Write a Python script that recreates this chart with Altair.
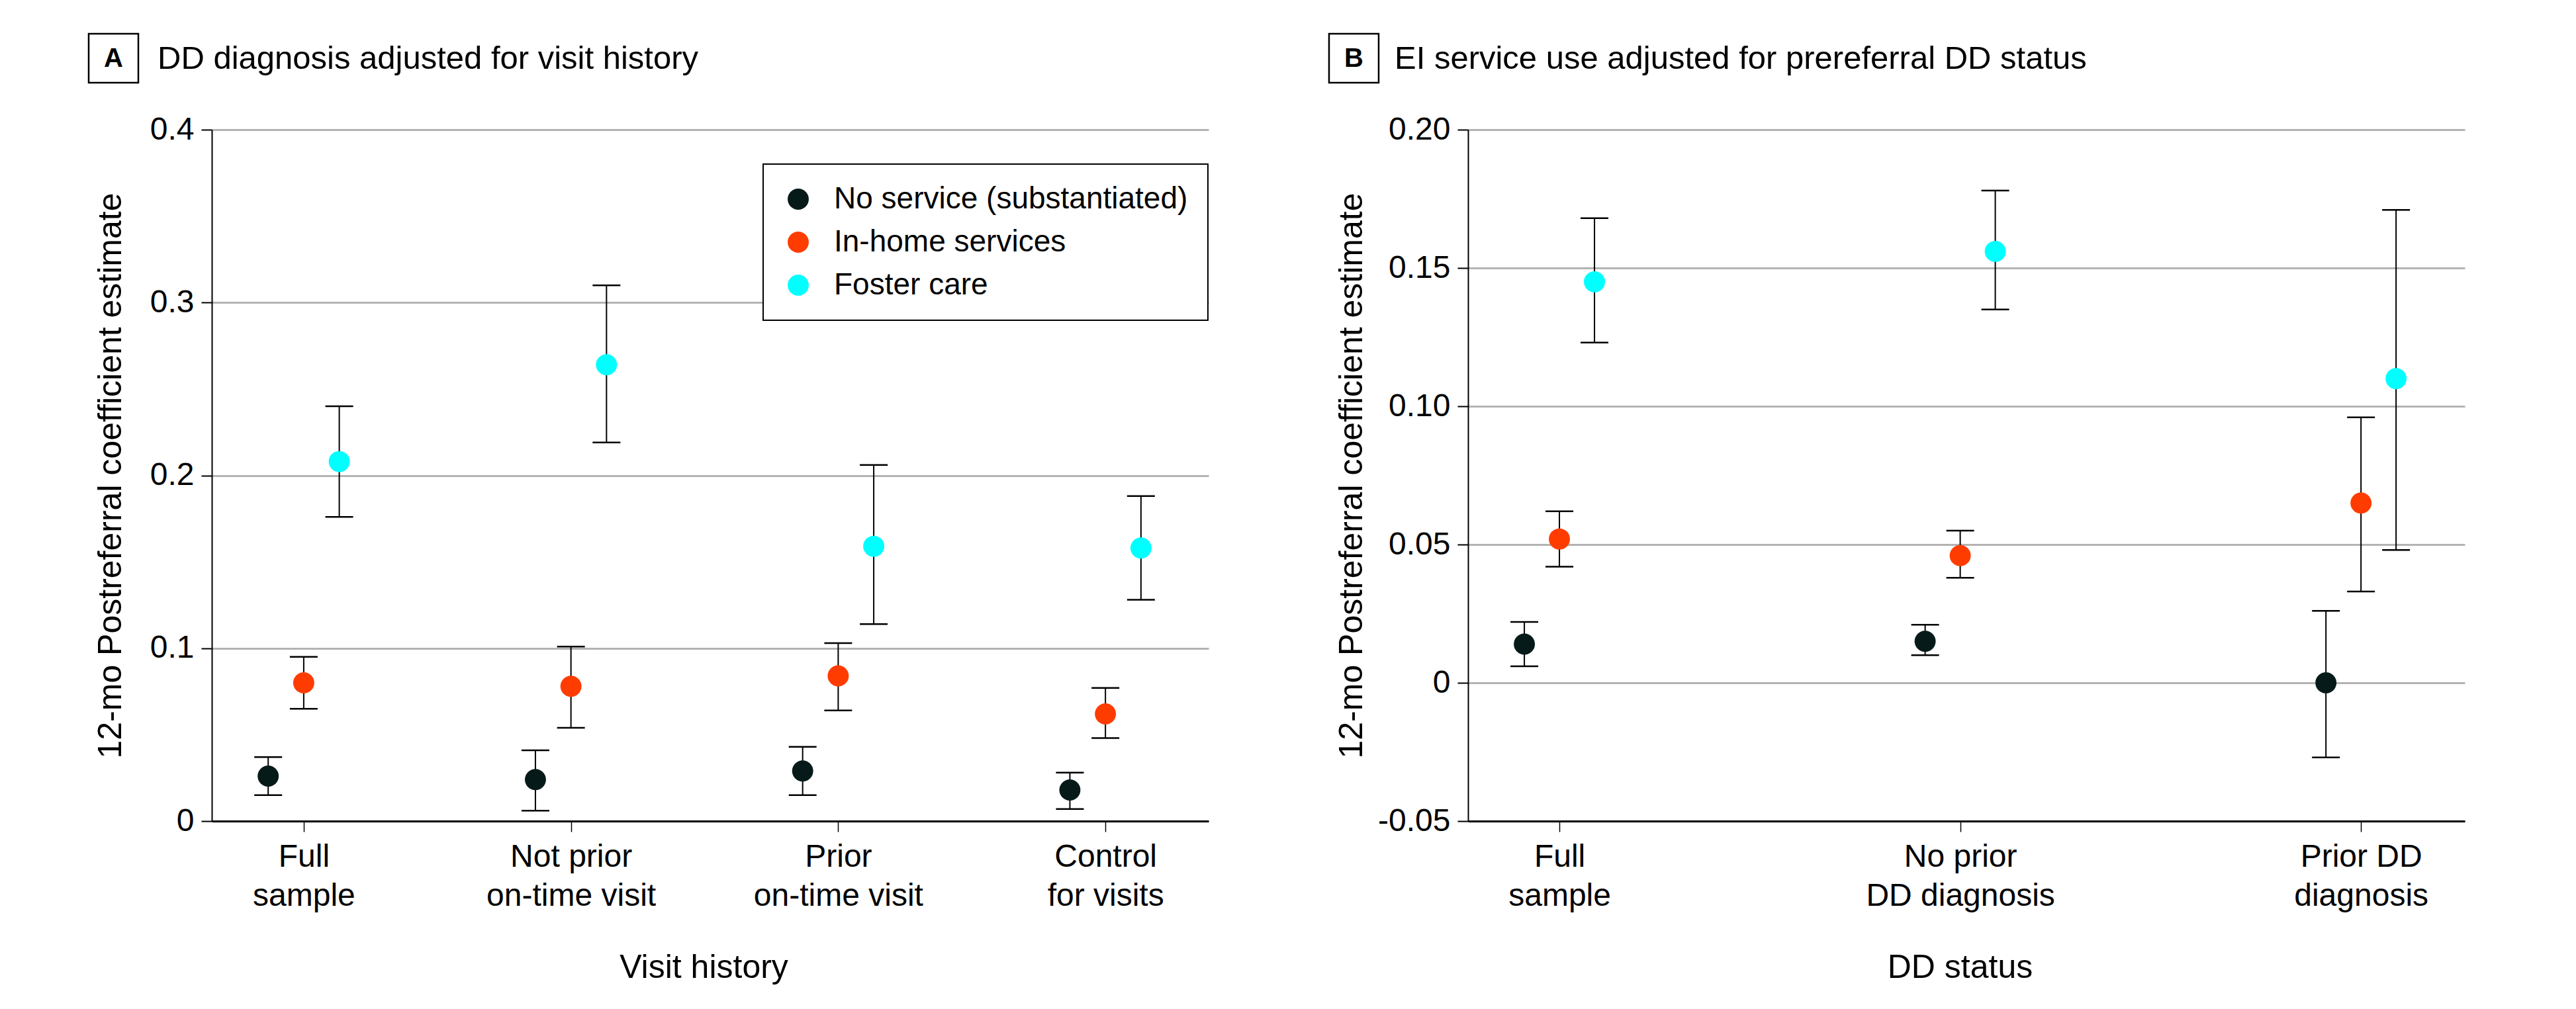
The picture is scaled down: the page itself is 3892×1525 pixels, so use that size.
import altair as alt
import pandas as pd

# Service groups and their colours
groups = ["No service (substantiated)", "In-home services", "Foster care"]
group_colors = ["#071a1a", "#ff3c00", "#00ffff"]

# Panel A: DD diagnosis adjusted for visit history
visit_labels = [["Full", "sample"], ["Not prior", "on-time visit"],
                ["Prior", "on-time visit"], ["Control", "for visits"]]
a_no_service = [0.026, 0.024, 0.029, 0.018]
a_no_service_lo = [0.015, 0.006, 0.015, 0.007]
a_no_service_hi = [0.037, 0.041, 0.043, 0.028]
a_in_home = [0.080, 0.078, 0.084, 0.062]
a_in_home_lo = [0.065, 0.054, 0.064, 0.048]
a_in_home_hi = [0.095, 0.101, 0.103, 0.077]
a_foster = [0.208, 0.264, 0.159, 0.158]
a_foster_lo = [0.176, 0.219, 0.114, 0.128]
a_foster_hi = [0.240, 0.310, 0.206, 0.188]
a_ticks = [0, 0.1, 0.2, 0.3, 0.4]

# Panel B: EI service use adjusted for prereferral DD status
dd_labels = [["Full", "sample"], ["No prior", "DD diagnosis"], ["Prior DD", "diagnosis"]]
b_no_service = [0.014, 0.015, 0.000]
b_no_service_lo = [0.006, 0.010, -0.027]
b_no_service_hi = [0.022, 0.021, 0.026]
b_in_home = [0.052, 0.046, 0.065]
b_in_home_lo = [0.042, 0.038, 0.033]
b_in_home_hi = [0.062, 0.055, 0.096]
b_foster = [0.145, 0.156, 0.110]
b_foster_lo = [0.123, 0.135, 0.048]
b_foster_hi = [0.168, 0.178, 0.171]
b_ticks = [-0.05, 0, 0.05, 0.10, 0.15, 0.20]

Y_TITLE = "12-mo Postreferral coefficient estimate"
W, H = 1506, 1045


def long_table(ests, los, his):
    rows = []
    for g, (e, lo, hi) in enumerate(zip(ests, los, his)):
        for i in range(len(e)):
            rows.append({"group": groups[g], "g": g, "cat": i + 1,
                         "est": e[i], "lo": lo[i], "hi": hi[i]})
    return pd.DataFrame(rows)


def js_labels(labels):
    inner = ",".join("[" + ",".join("'" + s + "'" for s in lines) + "]" for lines in labels)
    return "[" + inner + "][datum.value - 1]"


def panel(df, letter, title, cat_labels, x_domain, dodge, y_domain, y_ticks,
          y_label_expr, x_title, y_title_x, box_x, text_x, show_legend):
    n = len(cat_labels)
    base = alt.Chart(df).transform_calculate(
        pos=f"datum.cat + (datum.g - 1) * {dodge}"
    )
    x = alt.X(
        "pos:Q",
        scale=alt.Scale(domain=x_domain, nice=False, zero=False),
        axis=alt.Axis(values=list(range(1, n + 1)), labelExpr=js_labels(cat_labels),
                      title=x_title, grid=False, titleX=743, titleY=236,
                      titleBaseline="alphabetic", titleAlign="center"),
    )
    y_axis = alt.Axis(values=y_ticks, labelExpr=y_label_expr, title=Y_TITLE,
                      grid=True, titleX=y_title_x, titleY=H / 2,
                      titleBaseline="alphabetic", titleAlign="center", titleAngle=270)
    y_scale = alt.Scale(domain=y_domain, nice=False, zero=False)

    def y_enc(field):
        return alt.Y(f"{field}:Q", scale=y_scale, axis=y_axis)

    bars = base.mark_rule(color="black", strokeWidth=2).encode(
        x=x, y=y_enc("lo"), y2="hi:Q")
    cap_lo = base.mark_tick(orient="horizontal", size=42, thickness=2.5,
                            color="black", opacity=1).encode(x=x, y=y_enc("lo"))
    cap_hi = base.mark_tick(orient="horizontal", size=42, thickness=2.5,
                            color="black", opacity=1).encode(x=x, y=y_enc("hi"))
    legend = alt.Legend(title=None, orient="none", legendX=833, legendY=52,
                        symbolType="circle", symbolSize=1018, symbolStrokeWidth=0,
                        labelFontSize=46, labelLimit=1000, padding=30,
                        rowPadding=19, labelOffset=31, fillColor="white",
                        strokeColor="black") if show_legend else None
    points = base.mark_circle(size=1018, opacity=1).encode(
        x=x, y=y_enc("est"),
        color=alt.Color("group:N", scale=alt.Scale(domain=groups, range=group_colors),
                        legend=legend),
    )

    deco = alt.Chart(pd.DataFrame({"k": [0]}))
    box = deco.mark_rect(fill="white", stroke="black", strokeWidth=2.5).encode(
        x=alt.value(box_x), x2=alt.value(box_x + 75),
        y=alt.value(-145), y2=alt.value(-71))
    letter_txt = deco.mark_text(text=letter, fontSize=40, fontWeight="bold",
                                align="center", baseline="middle").encode(
        x=alt.value(box_x + 37.5), y=alt.value(-107))
    title_txt = deco.mark_text(text=title, fontSize=49, align="left",
                               baseline="middle").encode(
        x=alt.value(text_x), y=alt.value(-107))

    return alt.layer(bars, cap_lo, cap_hi, points, box, letter_txt, title_txt).properties(
        width=W, height=H)


df_a = long_table([a_no_service, a_in_home, a_foster],
                  [a_no_service_lo, a_in_home_lo, a_foster_lo],
                  [a_no_service_hi, a_in_home_hi, a_foster_hi])
df_b = long_table([b_no_service, b_in_home, b_foster],
                  [b_no_service_lo, b_in_home_lo, b_foster_lo],
                  [b_no_service_hi, b_in_home_hi, b_foster_hi])

panel_a = panel(df_a, "A", "DD diagnosis adjusted for visit history", visit_labels,
                [0.656, 4.386], 0.133, [0, 0.4], a_ticks,
                "datum.value == 0 ? '0' : format(datum.value, '.1f')",
                "Visit history", -138, -186, -82, True)
panel_b = panel(df_b, "B", "EI service use adjusted for prereferral DD status", dd_labels,
                [0.772, 3.259], 0.0875, [-0.05, 0.20], b_ticks,
                "datum.value == 0 ? '0' : replace(format(datum.value, '.2f'), '\u2212', '-')",
                "DD status", -161, -210, -111, False)

chart = alt.hconcat(panel_a, panel_b, spacing=392, bounds="flush").resolve_legend(
    color="independent"
).configure(
    font="Liberation Sans",
    background="white",
    padding={"left": 132, "top": 49, "right": 20, "bottom": 30},
).configure_view(stroke=None).configure_axis(
    labelFontSize=48, labelColor="black", labelFont="Liberation Sans",
    labelLimit=2000,
    titleFontSize=50, titleFontWeight="normal", titleColor="black",
    titleFont="Liberation Sans",
    domainColor="black", tickColor="black", tickSize=16,
    gridColor="#b3b3b3", gridWidth=3,
).configure_axisX(
    domainWidth=3, tickWidth=1.5, labelPadding=14, labelLineHeight=59,
    labelBaseline="top", labelAlign="center",
).configure_axisY(
    domainWidth=2, tickWidth=2, labelPadding=11,
).configure_legend(strokeWidth=2)

chart.save("out.html", embed_options={"renderer": "svg", "actions": False})
